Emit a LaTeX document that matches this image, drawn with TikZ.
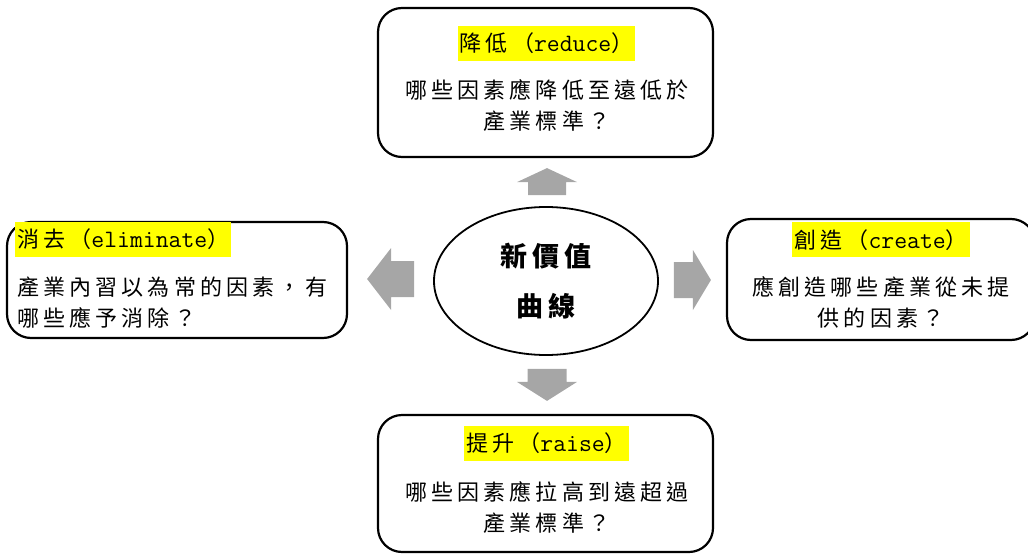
\documentclass[tikz,border=0pt]{standalone}
\usepackage{fontspec}
\newfontfamily\cjk[LetterSpace=19]{Noto Sans CJK TC}
\usepackage{tikz}
\usetikzlibrary{shapes.geometric}
\definecolor{arrowgray}{RGB}{166,166,166}
\definecolor{markyellow}{RGB}{255,255,0}

\begin{document}
\begin{tikzpicture}[x=1pt,y=-1pt]
\tikzset{
     box/.style={draw, line width=2.2pt, rounded corners=24pt, inner sep=0pt},
     heading/.style={fill=markyellow, inner sep=2pt, minimum height=35pt, font=\cjk\fontsize{22}{26}\selectfont},
     body/.style={inner sep=0pt, font=\cjk\fontsize{22}{31}\selectfont},
     blockarrow/.style={fill=arrowgray}}

\useasboundingbox (0,0) rectangle (1028,554);
\clip (0,0) rectangle (1028,554);

% The centre
\node (centre) [ellipse, draw, line width=1.8pt, minimum width=224pt, minimum height=148pt, inner sep=0pt, align=center, font=\cjk\bfseries\fontsize{27}{50}\selectfont] at (546,281) {新價值\\曲線};

% The boxes
\node (reducebox)    [box, minimum width=335pt, minimum height=149pt] at (545.5,82.5) {};
\node (raisebox)     [box, minimum width=335pt, minimum height=137pt] at (545.5,483.5) {};
\node (eliminatebox) [box, minimum width=340pt, minimum height=116pt] at (177,280) {};
\node (createbox)    [box, minimum width=308pt, minimum height=121pt] at (881,279.5) {};

% The headings
\node (reducehead)    [heading] at ([xshift=1pt,yshift=-36.5pt]reducebox.north) {降低（{\ttfamily\fontsize{25}{26}\selectfont reduce}）};
\node (raisehead)     [heading] at ([xshift=1pt,yshift=-29.5pt]raisebox.north) {提升（{\ttfamily\fontsize{25}{26}\selectfont raise}）};
\node (eliminatehead) [heading, anchor=west] at ([xshift=9pt,yshift=-18.5pt]eliminatebox.north west) {消去（{\ttfamily\fontsize{25}{26}\selectfont eliminate}）};
\node (createhead)    [heading] at ([yshift=-22pt]createbox.north) {創造（{\ttfamily\fontsize{25}{26}\selectfont create}）};

% The questions
\node (reducetext)    [body, align=center] at ([xshift=1.5pt,yshift=-23.5pt]reducebox.center) {哪些因素應降低至遠低於\\產業標準？};
\node (raisetext)     [body, align=center] at ([xshift=1.5pt,yshift=-24pt]raisebox.center) {哪些因素應拉高到遠超過\\產業標準？};
\node (eliminatetext) [body, align=left, anchor=west] at ([xshift=11pt,yshift=-22.5pt]eliminatebox.west) {產業內習以為常的因素，有\\哪些應予消除？};
\node (createtext)    [body, align=center] at ([yshift=-22.5pt]createbox.center) {應創造哪些產業從未提\\供的因素？};

% The arrows
\coordinate (uptip)    at ([xshift=1pt,yshift=38pt]centre.north);
\coordinate (downtip)  at ([xshift=1pt,yshift=-45pt]centre.south);
\coordinate (lefttip)  at ([xshift=-66pt,yshift=2pt]centre.west);
\coordinate (righttip) at ([xshift=52pt,yshift=1pt]centre.east);
\fill [blockarrow] (uptip) -- ++(30,14) -- ++(-11,0) -- ++(0,13) -- ++(-38,0) -- ++(0,-13) -- ++(-11,0) -- cycle;
\fill [blockarrow] (downtip) -- ++(30,-19) -- ++(-10.5,0) -- ++(0,-13) -- ++(-39,0) -- ++(0,13) -- ++(-10.5,0) -- cycle;
\fill [blockarrow] (lefttip) -- ++(24,-31) -- ++(0,13) -- ++(23,0) -- ++(0,36) -- ++(-23,0) -- ++(0,13) -- cycle;
\fill [blockarrow] (righttip) -- ++(-18,-30) -- ++(0,12) -- ++(-19,0) -- ++(0,36) -- ++(19,0) -- ++(0,12) -- cycle;
\end{tikzpicture}
\end{document}
